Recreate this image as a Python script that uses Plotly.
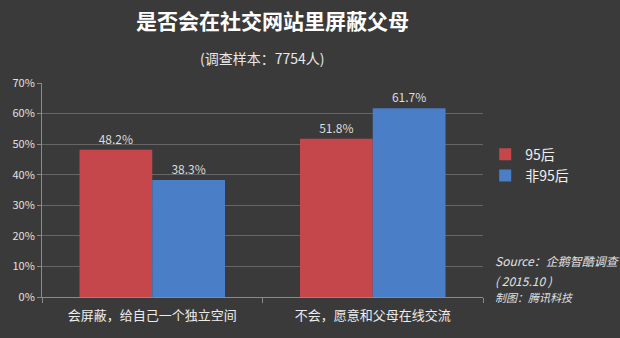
import plotly.graph_objects as go

categories = ["会屏蔽，给自己一个独立空间", "不会，愿意和父母在线交流"]
series_names = ["95后", "非95后"]
vals_95 = [48.2, 51.8]
vals_non95 = [38.3, 61.7]
colors = ["#c5474b", "#4a7ec6"]
y_ticks = [0, 10, 20, 30, 40, 50, 60, 70]

FONT = "Noto Sans CJK SC"

fig = go.Figure()
for name, vals, col in zip(series_names, [vals_95, vals_non95], colors):
    fig.add_trace(go.Bar(
        x=categories, y=vals, name=name, marker=dict(color=col, line=dict(width=0)),
        text=[f"{v}%" for v in vals], textposition="outside",
        textfont=dict(family=FONT, size=12, color="#dcdcdc"), cliponaxis=False,
    ))

fig.update_layout(
    width=620, height=338,
    margin=dict(l=36, r=137, t=83, b=41),
    paper_bgcolor="#3a3a3a", plot_bgcolor="#3a3a3a",
    barmode="group", bargap=0.34, bargroupgap=0,
    font=dict(family=FONT, color="#e6e6e6"),
    showlegend=True,
    legend=dict(x=1.005, y=0.74, xanchor="left", yanchor="top",
                font=dict(family=FONT, size=14, color="#f0f0f0"),
                bgcolor="rgba(0,0,0,0)", itemwidth=30, tracegroupgap=2),
    xaxis=dict(showgrid=False, showline=True, linecolor="#8a8a8a", linewidth=1,
               ticks="outside", tickson="boundaries", ticklen=5, tickcolor="#8a8a8a",
               ticklabelstandoff=6,
               tickfont=dict(family=FONT, size=13, color="#ececec")),
    yaxis=dict(range=[0, 70], tickvals=y_ticks, ticktext=[f"{v}%" for v in y_ticks],
               showgrid=True, gridcolor="#666666", gridwidth=1,
               showline=True, linecolor="#8a8a8a", ticks="outside", ticklen=4,
               tickcolor="#8a8a8a", zeroline=False,
               tickfont=dict(family=FONT, size=11, color="#e0e0e0")),
)

fig.add_annotation(text="<b>是否会在社交网站里屏蔽父母</b>", xref="paper", yref="paper",
                   x=(270 - 36) / 447, y=(297 - 20) / 214, xanchor="center", yanchor="middle",
                   showarrow=False, font=dict(family=FONT, size=21, color="#ffffff"))
fig.add_annotation(text="(调查样本：7754人)", xref="paper", yref="paper",
                   x=(260 - 36) / 447, y=(297 - 58) / 214, xanchor="center", yanchor="middle",
                   showarrow=False, font=dict(family=FONT, size=14, color="#e8e8e8"))
src_lines = ["<i>Source：企鹅智酷调查</i>", "<i>( 2015.10 )</i>", "<i>制图：腾讯科技</i>"]
src_y = [260, 280, 297]
src_sizes = [12, 12, 11]
for t, yy, s in zip(src_lines, src_y, src_sizes):
    fig.add_annotation(text=t, xref="paper", yref="paper",
                       x=(493 - 36) / 447, y=(297 - yy) / 214, xanchor="left", yanchor="middle",
                       showarrow=False, font=dict(family=FONT, size=s, color="#e0e0e0"))

fig.write_html("out.html")
